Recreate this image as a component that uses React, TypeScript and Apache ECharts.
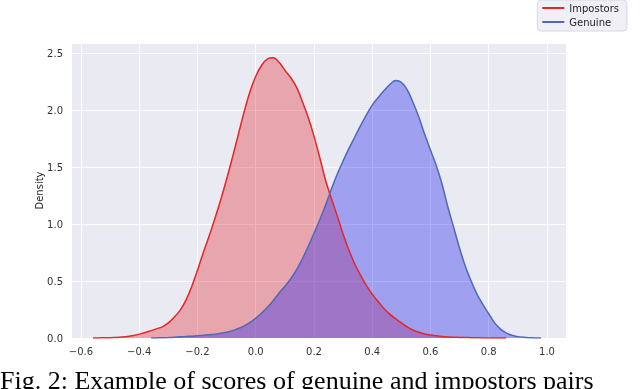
import React, { useEffect, useRef } from "react";
import * as echarts from "echarts";

// Impostors density, x from -0.56 to 0.86 in steps of 0.02
const impostorX0 = -0.56;
const impostorY = [0.0, 0.001, 0.002, 0.003, 0.005, 0.008, 0.013, 0.022, 0.034, 0.048, 0.065, 0.082, 0.1, 0.135, 0.185, 0.245, 0.335, 0.455, 0.6, 0.755, 0.9, 1.055, 1.22, 1.4, 1.59, 1.79, 1.99, 2.165, 2.3, 2.395, 2.45, 2.46, 2.42, 2.35, 2.285, 2.2, 2.075, 1.935, 1.77, 1.58, 1.38, 1.22, 1.07, 0.91, 0.77, 0.65, 0.55, 0.46, 0.385, 0.32, 0.26, 0.21, 0.17, 0.133, 0.098, 0.07, 0.05, 0.036, 0.026, 0.019, 0.013, 0.009, 0.007, 0.005, 0.004, 0.003, 0.002, 0.001, 0.001, 0.0, 0.0, 0.0];

// Genuine density, x from -0.36 to 0.98 in steps of 0.02
const genuineX0 = -0.36;
const genuineY = [0.0, 0.001, 0.002, 0.004, 0.007, 0.01, 0.013, 0.016, 0.02, 0.024, 0.029, 0.034, 0.041, 0.051, 0.065, 0.084, 0.107, 0.137, 0.175, 0.22, 0.27, 0.33, 0.395, 0.455, 0.52, 0.6, 0.695, 0.805, 0.92, 1.04, 1.17, 1.31, 1.44, 1.555, 1.665, 1.765, 1.865, 1.96, 2.045, 2.11, 2.17, 2.225, 2.26, 2.245, 2.18, 2.07, 1.94, 1.79, 1.65, 1.515, 1.35, 1.15, 0.97, 0.79, 0.63, 0.5, 0.385, 0.295, 0.215, 0.135, 0.08, 0.045, 0.024, 0.012, 0.006, 0.003, 0.001, 0.0];

const sampleStep = 0.02;
const xTickMin = -0.6;
const xTickMax = 1.0;
const xStep = 0.2;
const yStep = 0.5;
const seriesNames = ["Impostors", "Genuine"];
const yAxisName = "Density";
const caption = "Fig. 2: Example of scores of genuine and impostors pairs";

const pairs = (x0: number, ys: number[]) => ys.map((y, i) => [+(x0 + i * sampleStep).toFixed(3), y]);

export default function App() {
  const ref = useRef<HTMLDivElement>(null);
  useEffect(() => {
    if (!ref.current) return;
    const chart = echarts.init(ref.current, undefined, { renderer: "svg" });
    const font = "DejaVu Sans";
    const redLine = "#e32626";
    const blueLine = "#4f68b8";
    const smooth = 0.3;
    const impData = pairs(impostorX0, impostorY);
    const genData = pairs(genuineX0, genuineY);
    chart.setOption({
      animation: false,
      textStyle: { fontFamily: font },
      grid: [
        { left: 72, right: 74, top: 43, bottom: 51, show: true, backgroundColor: "#eaeaf2", borderWidth: 0 },
        { left: 81, right: 93, top: 43, bottom: 51, show: false },
      ],
      legend: {
        data: seriesNames,
        orient: "vertical",
        right: 13,
        top: 0,
        icon: "rect",
        itemWidth: 22,
        itemHeight: 2,
        itemGap: 4,
        padding: [3, 8, 4, 5],
        backgroundColor: "rgba(234,234,242,0.75)",
        borderColor: "#d8d8e0",
        borderWidth: 1,
        borderRadius: 4,
        textStyle: { fontSize: 10, color: "#262626", fontFamily: font },
      },
      xAxis: [
        { type: "value", gridIndex: 0, min: -0.632, max: 1.066, show: false },
        {
          type: "value",
          gridIndex: 1,
          min: xTickMin,
          max: xTickMax,
          interval: xStep,
          axisLine: { show: false },
          axisTick: { show: false },
          splitLine: { show: true, lineStyle: { color: "#ffffff", width: 1 } },
          axisLabel: {
            fontSize: 10,
            color: "#333",
            margin: 8,
            formatter: (v: number) => (v < 0 ? "\u2212" : "") + Math.abs(v).toFixed(1),
          },
        },
      ],
      yAxis: [
        {
          type: "value",
          gridIndex: 0,
          min: 0,
          max: 2.59,
          interval: yStep,
          name: yAxisName,
          nameLocation: "middle",
          nameGap: 28,
          nameMoveOverlap: false,
          nameTextStyle: { fontSize: 10, color: "#262626" },
          axisLine: { show: false },
          axisTick: { show: false },
          splitLine: { show: true, lineStyle: { color: "#ffffff", width: 1 } },
          axisLabel: { fontSize: 10, color: "#333", margin: 9, showMaxLabel: false, formatter: (v: number) => v.toFixed(1) },
        },
        { type: "value", gridIndex: 1, min: 0, max: 2.59, show: false },
      ],
      series: [
        {
          name: "Impostors fill",
          type: "line",
          xAxisIndex: 0,
          yAxisIndex: 0,
          data: impData,
          smooth,
          symbol: "none",
          lineStyle: { width: 0 },
          areaStyle: { color: "rgba(225,20,30,0.32)", opacity: 1 },
          z: 2,
        },
        {
          name: "Genuine fill",
          type: "line",
          xAxisIndex: 0,
          yAxisIndex: 0,
          data: genData,
          smooth,
          symbol: "none",
          lineStyle: { width: 0 },
          areaStyle: { color: "rgba(40,40,240,0.38)", opacity: 1 },
          z: 3,
        },
        {
          name: seriesNames[0],
          type: "line",
          xAxisIndex: 0,
          yAxisIndex: 0,
          data: impData,
          smooth,
          symbol: "none",
          color: redLine,
          lineStyle: { width: 1.5, color: redLine },
          z: 4,
        },
        {
          name: seriesNames[1],
          type: "line",
          xAxisIndex: 0,
          yAxisIndex: 0,
          data: genData,
          smooth,
          symbol: "none",
          color: blueLine,
          lineStyle: { width: 1.5, color: blueLine },
          z: 5,
        },
      ],
      graphic: [
        {
          type: "text",
          left: 0,
          top: 367,
          style: { text: caption, fontFamily: "Liberation Serif", fontSize: 26, fill: "#000" },
        },
      ],
    });
    return () => chart.dispose();
  }, []);
  return <div ref={ref} style={{ position: "fixed", left: 0, top: 0, width: 640, height: 389 }} />;
}
